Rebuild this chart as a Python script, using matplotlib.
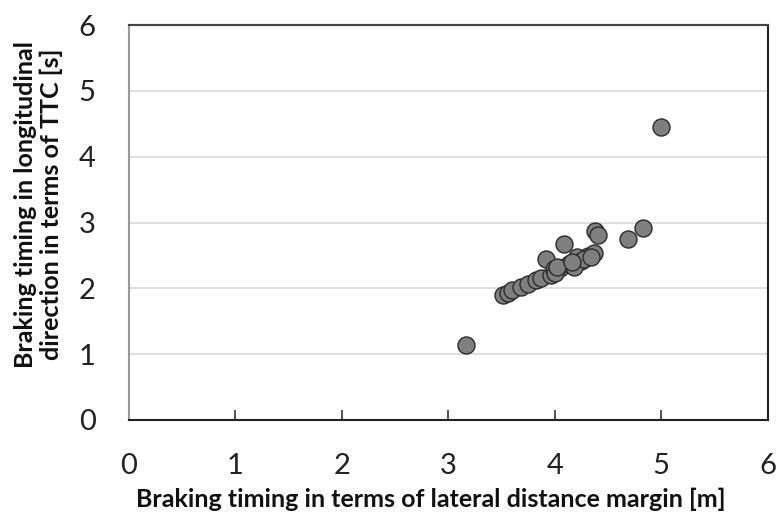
import matplotlib
matplotlib.use("Agg")
import matplotlib.pyplot as plt

# Braking timing: lateral distance margin [m] vs. longitudinal TTC [s]
lateral_margin = [3.17, 3.51, 3.56, 3.60, 3.68, 3.75, 3.82, 3.87, 3.92, 3.96,
                  3.99, 4.05, 4.09, 4.13, 4.21, 4.25, 4.31, 4.37, 4.375, 4.41,
                  4.69, 4.83, 5.00, 4.00, 4.18, 4.27, 4.34, 4.02, 4.16]
ttc = [1.145, 1.90, 1.93, 1.97, 2.02, 2.06, 2.12, 2.16, 2.45, 2.21,
       2.29, 2.31, 2.68, 2.37, 2.48, 2.42, 2.49, 2.53, 2.865, 2.81,
       2.75, 2.92, 4.46, 2.24, 2.32, 2.44, 2.47, 2.33, 2.40]

x_ticks = [0, 1, 2, 3, 4, 5, 6]
y_ticks = [0, 1, 2, 3, 4, 5, 6]

plt.rcParams['font.family'] = ['Lato', 'DejaVu Sans']

fig = plt.figure(figsize=(7.77, 5.14), dpi=100)
ax = fig.add_axes([0.166, 0.183, 0.822, 0.768])

ax.yaxis.grid(True, color='#d9d9d9', linewidth=1.2, zorder=0)
ax.set_axisbelow(True)

ax.scatter(lateral_margin, ttc, s=150, facecolor='#7f7f7f',
           edgecolor='#2b2b2b', linewidth=1.0, zorder=3)

ax.set_xlim(0, 6)
ax.set_ylim(0, 6)
ax.set_xticks(x_ticks)
ax.set_yticks(y_ticks)

ax.tick_params(axis='x', direction='in', length=7, width=1.2, color='#333333',
               labelsize=21, pad=24)
ax.tick_params(axis='y', length=0, labelsize=21, pad=24)
for lbl in ax.get_xticklabels() + ax.get_yticklabels():
    lbl.set_color('#222222')

ax.spines['bottom'].set_color('#222222')
ax.spines['bottom'].set_linewidth(1.5)
ax.spines['top'].set_color('#444444')
ax.spines['top'].set_linewidth(1.5)
ax.spines['right'].set_color('#222222')
ax.spines['right'].set_linewidth(1.5)
ax.spines['left'].set_color('#999999')
ax.spines['left'].set_linewidth(1.5)

ax.set_xlabel('Braking timing in terms of lateral distance margin [m]',
              fontsize=18, fontweight='bold', color='#111111')
ax.set_ylabel('Braking timing in longitudinal\ndirection in terms of TTC [s]',
              fontsize=18, fontweight='bold', color='#111111',
              linespacing=1.15)
ax.xaxis.set_label_coords(0.472, -0.172)
ax.yaxis.set_label_coords(-0.103, 0.547)

fig.savefig('out.png', dpi=100)
